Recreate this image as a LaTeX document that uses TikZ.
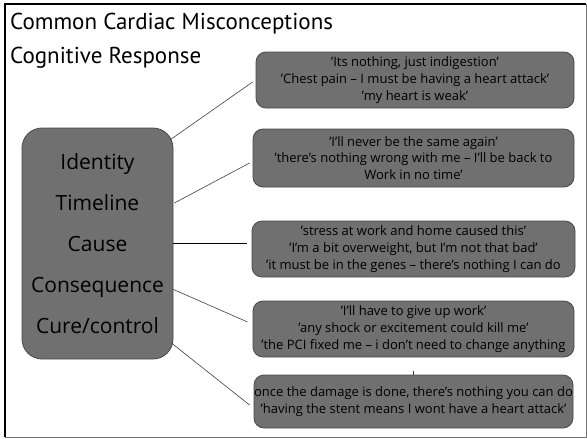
\documentclass[tikz,border=0pt]{standalone}
\usepackage{fontspec}
\setmainfont{Open Sans}
\newfontfamily\titlefont{PT Sans}
\usetikzlibrary{calc}
\definecolor{boxfill}{HTML}{707070}
\definecolor{boxdraw}{HTML}{4A4A4A}
\tikzset{
  quotebox/.style={draw=boxdraw, fill=boxfill, line width=0.8pt, rounded corners=10pt,
    align=center, inner sep=0pt, text=black,
    font=\fontsize{13}{16.8}\selectfont},
  bigbox/.style={draw=boxdraw, fill=boxfill, line width=0.8pt, rounded corners=20pt,
    align=center, inner sep=0pt, text=black,
    font=\fontsize{21}{41}\selectfont,
    minimum width=151pt, minimum height=231pt},
  link/.style={draw=black!75, line width=0.6pt},
  titletext/.style={anchor=base west, inner sep=0pt, font=\titlefont\fontsize{23}{34}\selectfont}
}
\begin{document}
\begin{tikzpicture}[x=1pt, y=-1pt]
\useasboundingbox (0,0) rectangle (587,439);
\fill[white] (0,0) rectangle (587,439);
% frame
\draw[black, line width=2.5pt] (5,437) -- (5,4) -- (586,4);
\draw[black!55, line width=1pt] (5,437) -- (586,437) -- (586,4);
% title
\node[titletext] (t1) at (10,29) {Common Cardiac Misconceptions};
\node[titletext] (t2) at (10,63) {Cognitive Response};
% big box
\node[bigbox] (big) at (97.5,243.5) {Identity\\Timeline\\Cause\\Consequence\\Cure/control};
% quote boxes
\node[quotebox, minimum width=318pt, minimum height=56pt] (b1) at (415,80)
  {'Its nothing, just indigestion'\\'Chest pain – I must be having a heart attack'\\'my heart is weak'};
\node[quotebox, minimum width=321pt, minimum height=58pt] (b2) at (413.5,158)
  {'I'll never be the same again'\\'there's nothing wrong with me – I'll be back to\\Work in no time'};
\node[quotebox, minimum width=323pt, minimum height=56pt] (b3) at (413.5,249)
  {'stress at work and home caused this'\\'I'm a bit overweight, but I'm not that bad'\\'it must be in the genes – there's nothing I can do};
\node[quotebox, minimum width=321pt, minimum height=56pt] (b4) at (413.5,329)
  {'I'll have to give up work'\\'any shock or excitement could kill me'\\'the PCI fixed me – i don't need to change anything};
\node[quotebox, minimum width=319pt, minimum height=53pt] (b5) at (413.5,401.5)
  {once the damage is done, there's nothing you can do\\'having the stent means I wont have a heart attack'};
% connectors
\draw[link] ($(big.north east)+(-3,12)$) -- ($(b1.west)+(-3,2)$);
\draw[link] ($(big.east)+(1,-40.5)$) -- ($(b2.west)+(-3,5)$);
\draw[link, draw=black] ($(big.east)+(0,-0.5)$) -- ($(b3.west)+(-5,-6)$);
\draw[link] ($(big.east)+(-1,45.5)$) -- ($(b4.west)+(-5,-7)$);
\draw[link] ($(big.east)+(-2,99.5)$) -- ($(b5.west)+(-4,3.5)$);
\coordinate (tick) at ($(b5.north)+(0,-4)$);
\draw[link] (tick) -- (b5.north);
\end{tikzpicture}
\end{document}
